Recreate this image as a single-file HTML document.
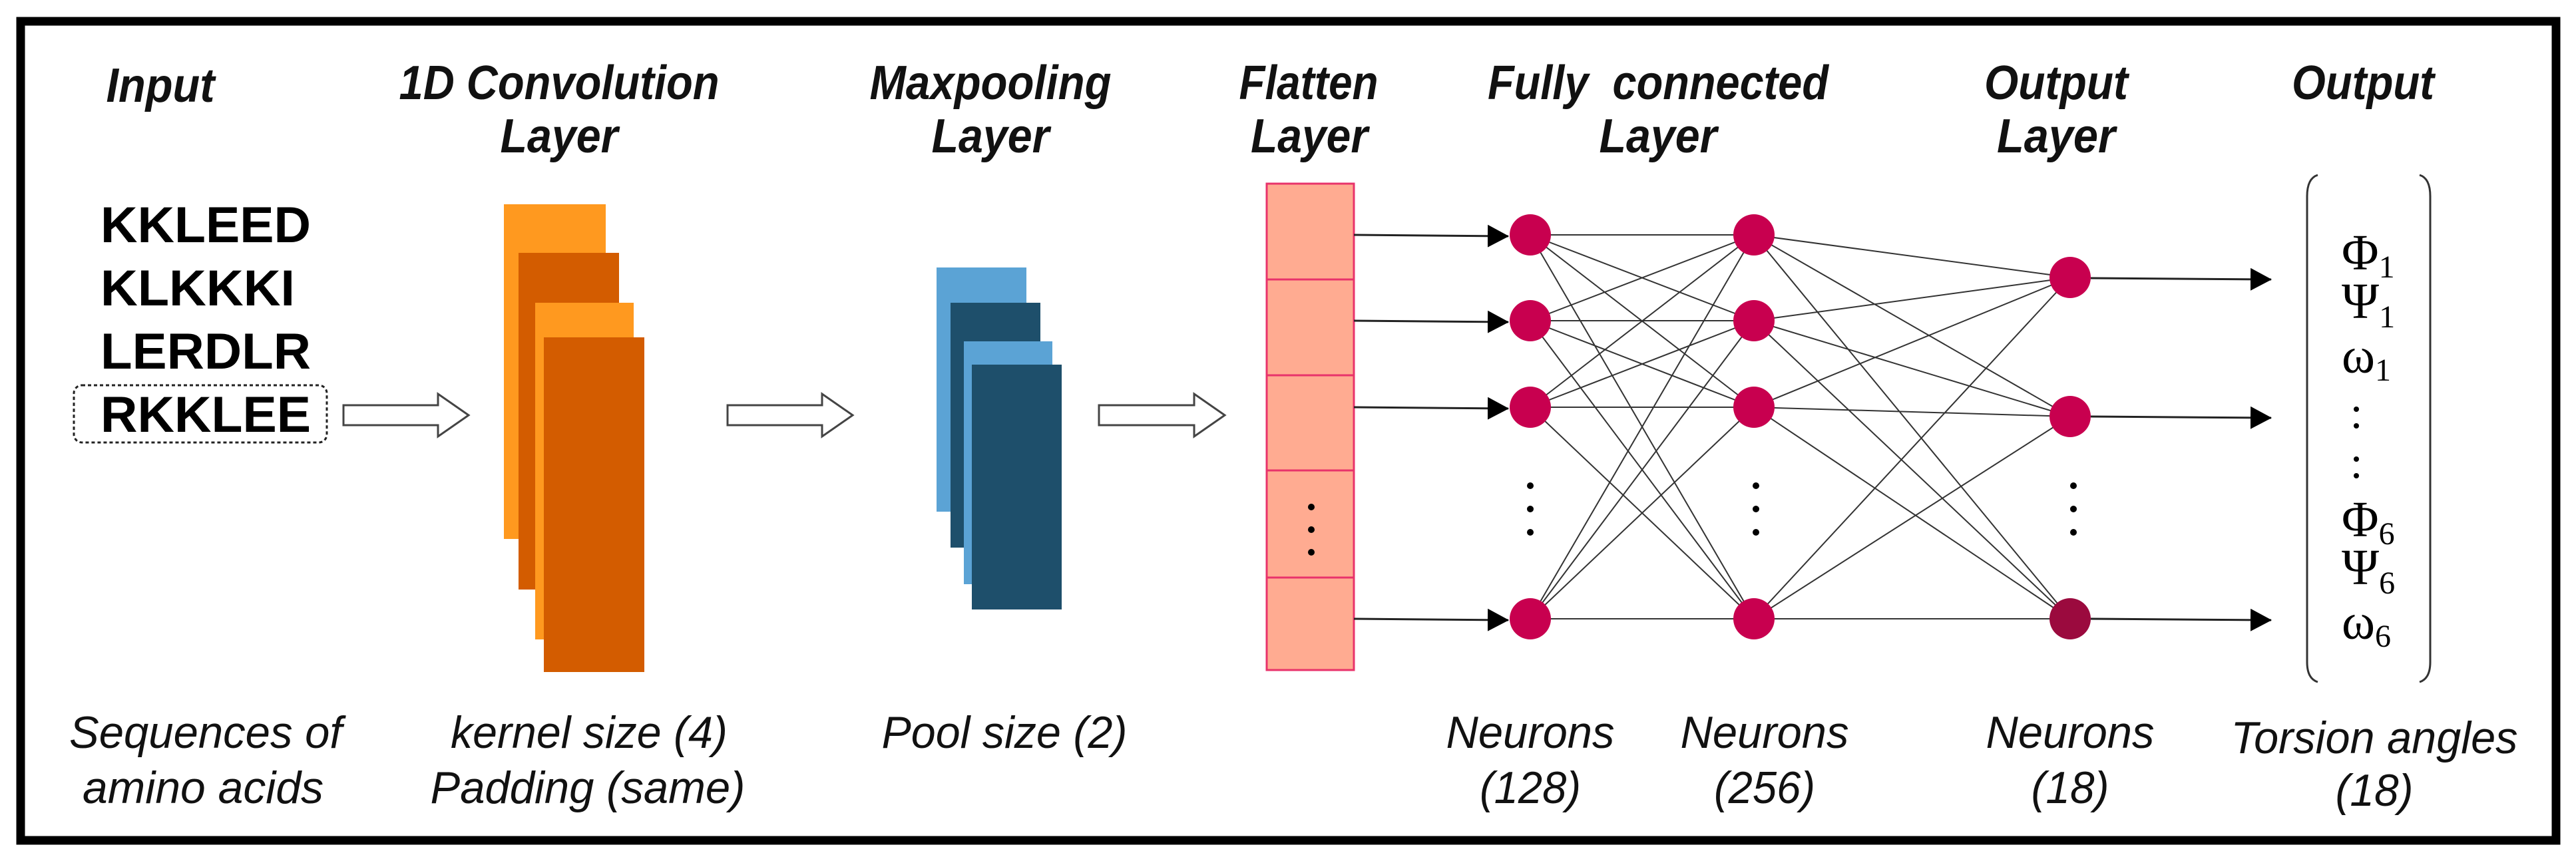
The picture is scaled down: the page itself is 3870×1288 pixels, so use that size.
<!DOCTYPE html>
<html><head><meta charset="utf-8"><style>
html,body{margin:0;padding:0;background:#fff;}
svg{display:block}
.t{font-family:"Liberation Sans",sans-serif;font-style:italic;font-weight:bold;font-size:72px;text-anchor:middle;fill:#111}
.b{font-family:"Liberation Sans",sans-serif;font-style:italic;font-size:68px;text-anchor:middle;fill:#111}
.s{font-family:"Liberation Sans",sans-serif;font-weight:bold;font-size:76px;fill:#000}
.g{font-family:"Liberation Serif",serif;font-size:76px;fill:#000}
.sub{font-size:48px}
</style></head><body>
<svg width="3870" height="1288" viewBox="0 0 3870 1288" xmlns="http://www.w3.org/2000/svg">
<defs><marker id="ah" markerWidth="32" markerHeight="34" refX="31" refY="17" orient="auto" markerUnits="userSpaceOnUse" viewBox="0 0 32 34"><path d="M0,0 L32,17 L0,34z" fill="#000"/></marker></defs>
<rect x="31" y="32" width="3809" height="1231" fill="#fff" stroke="#000" stroke-width="13"/>
<!-- titles -->
<text class="t" x="241" y="153" textLength="163" lengthAdjust="spacingAndGlyphs">Input</text>
<text class="t" x="840" y="149" textLength="481" lengthAdjust="spacingAndGlyphs">1D Convolution</text>
<text class="t" x="840" y="229" textLength="177" lengthAdjust="spacingAndGlyphs">Layer</text>
<text class="t" x="1488" y="149" textLength="363" lengthAdjust="spacingAndGlyphs">Maxpooling</text>
<text class="t" x="1488" y="229" textLength="177" lengthAdjust="spacingAndGlyphs">Layer</text>
<text class="t" x="1966" y="149" textLength="209" lengthAdjust="spacingAndGlyphs">Flatten</text>
<text class="t" x="1967" y="229" textLength="176" lengthAdjust="spacingAndGlyphs">Layer</text>
<text class="t" x="2491" y="149" textLength="512" lengthAdjust="spacingAndGlyphs">Fully&#160; connected</text>
<text class="t" x="2491" y="229" textLength="177" lengthAdjust="spacingAndGlyphs">Layer</text>
<text class="t" x="3089" y="149" textLength="216" lengthAdjust="spacingAndGlyphs">Output</text>
<text class="t" x="3089" y="229" textLength="178" lengthAdjust="spacingAndGlyphs">Layer</text>
<text class="t" x="3550" y="149" textLength="214" lengthAdjust="spacingAndGlyphs">Output</text>
<!-- sequences -->
<text class="s" x="151" y="364" textLength="316" lengthAdjust="spacingAndGlyphs">KKLEED</text>
<text class="s" x="151" y="459" textLength="292" lengthAdjust="spacingAndGlyphs">KLKKKI</text>
<text class="s" x="151" y="554" textLength="316" lengthAdjust="spacingAndGlyphs">LERDLR</text>
<text class="s" x="151" y="649" textLength="316" lengthAdjust="spacingAndGlyphs">RKKLEE</text>
<rect x="111" y="579" width="380" height="86" rx="12" fill="none" stroke="#222" stroke-width="3" stroke-dasharray="5,4"/>
<!-- hollow arrows -->
<g fill="#fff" stroke="#444" stroke-width="3">
<path d="M516,609 H658 V592 L704,624 L658,656 V639 H516 Z"/>
<path d="M1093,609 H1235 V592 L1281,624 L1235,656 V639 H1093 Z"/>
<path d="M1651,609 H1794 V592 L1840,624 L1794,656 V639 H1651 Z"/>
</g>
<!-- conv -->
<rect x="757" y="307" width="153" height="503" fill="#FF991F"/>
<rect x="779" y="380" width="151" height="506" fill="#D35C00"/>
<rect x="804" y="455" width="148" height="506" fill="#FF991F"/>
<rect x="817" y="507" width="151" height="503" fill="#D35C00"/>
<!-- pool -->
<rect x="1407" y="402" width="135" height="367" fill="#5BA3D5"/>
<rect x="1428" y="455" width="135" height="368" fill="#1E4F6B"/>
<rect x="1448" y="513" width="133" height="365" fill="#5BA3D5"/>
<rect x="1460" y="548" width="135" height="368" fill="#1E4F6B"/>
<!-- flatten -->
<rect x="1903" y="276" width="131" height="731" fill="#FFAB91" stroke="#E8336B" stroke-width="3"/>
<g stroke="#E8336B" stroke-width="3"><line x1="1903" y1="420" x2="2034" y2="420"/><line x1="1903" y1="564" x2="2034" y2="564"/><line x1="1903" y1="707" x2="2034" y2="707"/><line x1="1903" y1="868" x2="2034" y2="868"/></g>
<g fill="#000"><circle cx="1970" cy="762" r="5"/><circle cx="1970" cy="796" r="5"/><circle cx="1970" cy="830" r="5"/></g>
<!-- arrows -->
<g stroke="#222" stroke-width="3" marker-end="url(#ah)">
<line x1="2034" y1="353" x2="2266" y2="355"/>
<line x1="2034" y1="482" x2="2266" y2="484"/>
<line x1="2034" y1="612" x2="2266" y2="614"/>
<line x1="2034" y1="930" x2="2266" y2="932"/>
<line x1="3141" y1="418" x2="3412" y2="420"/>
<line x1="3141" y1="626" x2="3412" y2="628"/>
<line x1="3141" y1="930" x2="3412" y2="932"/>
</g>
<!-- connections -->
<g stroke="#333" stroke-width="2">
<path d="M2299,353 L2635,353 M2299,353 L2635,482 M2299,353 L2635,612 M2299,353 L2635,930
M2299,482 L2635,353 M2299,482 L2635,482 M2299,482 L2635,612 M2299,482 L2635,930
M2299,612 L2635,353 M2299,612 L2635,482 M2299,612 L2635,612 M2299,612 L2635,930
M2299,930 L2635,353 M2299,930 L2635,482 M2299,930 L2635,612 M2299,930 L2635,930
M2635,353 L3110,417 M2635,353 L3110,626 M2635,353 L3110,930
M2635,482 L3110,417 M2635,482 L3110,626 M2635,482 L3110,930
M2635,612 L3110,417 M2635,612 L3110,626 M2635,612 L3110,930
M2635,930 L3110,417 M2635,930 L3110,626 M2635,930 L3110,930"/>
</g>
<g fill="#C8004F">
<circle cx="2299" cy="353" r="31"/><circle cx="2299" cy="482" r="31"/><circle cx="2299" cy="612" r="31"/><circle cx="2299" cy="930" r="31"/>
<circle cx="2635" cy="353" r="31"/><circle cx="2635" cy="482" r="31"/><circle cx="2635" cy="612" r="31"/><circle cx="2635" cy="930" r="31"/>
<circle cx="3110" cy="417" r="31"/><circle cx="3110" cy="626" r="31"/>
</g>
<circle cx="3110" cy="930" r="31" fill="#9B0A3E"/>
<g fill="#000">
<circle cx="2299" cy="730" r="5"/><circle cx="2299" cy="765" r="5"/><circle cx="2299" cy="800" r="5"/>
<circle cx="2638" cy="730" r="5"/><circle cx="2638" cy="765" r="5"/><circle cx="2638" cy="800" r="5"/>
<circle cx="3115" cy="730" r="5"/><circle cx="3115" cy="765" r="5"/><circle cx="3115" cy="800" r="5"/>
</g>
<!-- bracket -->
<path d="M3482,263 Q3466,268 3466,295 V995 Q3466,1020 3482,1025" fill="none" stroke="#333" stroke-width="3"/>
<path d="M3635,263 Q3651,268 3651,295 V995 Q3651,1020 3635,1025" fill="none" stroke="#333" stroke-width="3"/>
<text class="g" x="3518" y="405">Φ<tspan class="sub" dy="12">1</tspan></text>
<text class="g" x="3518" y="478">Ψ<tspan class="sub" dy="14">1</tspan></text>
<text class="g" x="3518" y="560">ω<tspan class="sub" dy="12">1</tspan></text>
<g fill="#000"><circle cx="3540" cy="615" r="4"/><circle cx="3540" cy="640" r="4"/><circle cx="3540" cy="690" r="4"/><circle cx="3540" cy="715" r="4"/></g>
<text class="g" x="3518" y="806">Φ<tspan class="sub" dy="12">6</tspan></text>
<text class="g" x="3518" y="878">Ψ<tspan class="sub" dy="14">6</tspan></text>
<text class="g" x="3518" y="960">ω<tspan class="sub" dy="12">6</tspan></text>
<!-- bottom labels -->
<text class="b" x="309" y="1124" textLength="410" lengthAdjust="spacingAndGlyphs">Sequences of</text>
<text class="b" x="305" y="1207" textLength="362" lengthAdjust="spacingAndGlyphs">amino acids</text>
<text class="b" x="885" y="1124" textLength="416" lengthAdjust="spacingAndGlyphs">kernel size (4)</text>
<text class="b" x="883" y="1207" textLength="473" lengthAdjust="spacingAndGlyphs">Padding (same)</text>
<text class="b" x="1509" y="1124" textLength="369" lengthAdjust="spacingAndGlyphs">Pool size (2)</text>
<text class="b" x="2299" y="1124" textLength="253" lengthAdjust="spacingAndGlyphs">Neurons</text>
<text class="b" x="2299" y="1207" textLength="152" lengthAdjust="spacingAndGlyphs">(128)</text>
<text class="b" x="2651" y="1124" textLength="253" lengthAdjust="spacingAndGlyphs">Neurons</text>
<text class="b" x="2651" y="1207" textLength="152" lengthAdjust="spacingAndGlyphs">(256)</text>
<text class="b" x="3110" y="1124" textLength="253" lengthAdjust="spacingAndGlyphs">Neurons</text>
<text class="b" x="3110" y="1207" textLength="117" lengthAdjust="spacingAndGlyphs">(18)</text>
<text class="b" x="3567" y="1132" textLength="431" lengthAdjust="spacingAndGlyphs">Torsion angles</text>
<text class="b" x="3567" y="1211" textLength="117" lengthAdjust="spacingAndGlyphs">(18)</text>
</svg>
</body></html>
